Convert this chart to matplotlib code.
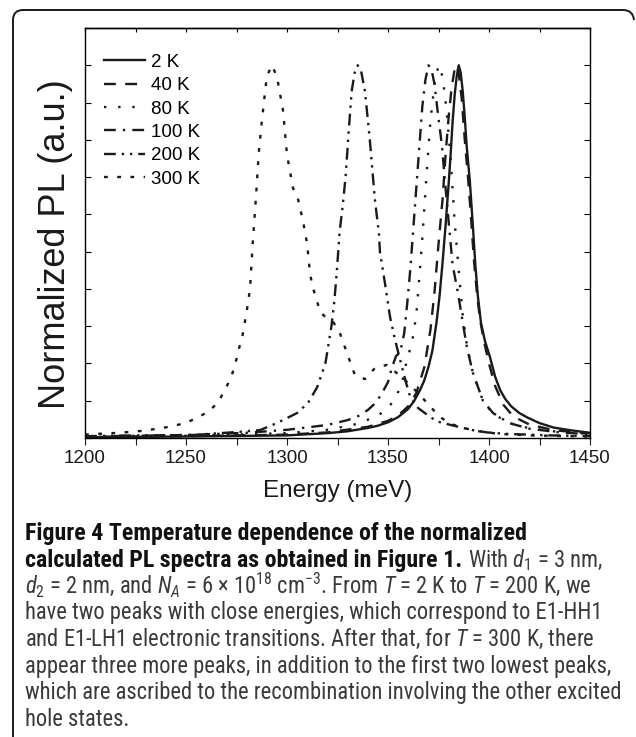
import matplotlib
matplotlib.use("Agg")
import matplotlib.pyplot as plt
from matplotlib.path import Path
from matplotlib.patches import PathPatch
from matplotlib import font_manager

available = {f.name for f in font_manager.fontManager.ttflist}
cap_font = next((f for f in ['Liberation Sans Narrow', 'DejaVu Sans Condensed', 'Roboto Condensed',
                             'Open Sans Condensed', 'Lato', 'Roboto', 'Liberation Sans']
                 if f in available), 'DejaVu Sans')

plt.rcParams['font.family'] = ['Liberation Sans', 'DejaVu Sans']
plt.rcParams['mathtext.fontset'] = 'custom'
plt.rcParams['mathtext.rm'] = cap_font
plt.rcParams['mathtext.it'] = cap_font + ':italic'
plt.rcParams['mathtext.bf'] = cap_font + ':bold'

# ---------------- data ----------------
labels = ["2 K", "40 K", "80 K", "100 K", "200 K", "300 K"]

e_2K = [1200, 1250, 1300, 1320, 1330, 1340, 1345, 1350, 1355, 1360, 1363, 1366, 1368, 1370, 1372, 1374,
        1375.5, 1377, 1378.5, 1380, 1381, 1382, 1383, 1384, 1385, 1386, 1387, 1388, 1389, 1390.5, 1392,
        1393.3, 1394.5, 1396, 1398, 1400.5, 1403, 1405.5, 1408, 1411, 1415, 1419, 1425, 1432, 1440, 1450]
y_2K = [0.002, 0.004, 0.007, 0.013, 0.018, 0.027, 0.033, 0.042, 0.056, 0.078, 0.10, 0.13, 0.155, 0.19, 0.235, 0.31,
        0.38, 0.47, 0.57, 0.68, 0.76, 0.85, 0.92, 0.97, 1.0, 0.98, 0.93, 0.86, 0.78, 0.69, 0.57,
        0.46, 0.38, 0.31, 0.26, 0.217, 0.165, 0.129, 0.105, 0.085, 0.067, 0.055, 0.04, 0.028, 0.021, 0.014]

e_40K = [1200, 1250, 1300, 1320, 1340, 1350, 1355, 1360, 1364, 1368, 1371, 1373, 1375, 1377, 1378.5, 1380,
         1381.5, 1383, 1384, 1385, 1386.5, 1388, 1389.6, 1391, 1392.5, 1394, 1395.5, 1397.5, 1400, 1403,
         1407, 1412, 1420, 1432, 1450]
y_40K = [0.003, 0.005, 0.009, 0.015, 0.03, 0.046, 0.06, 0.085, 0.12, 0.19, 0.29, 0.39, 0.52, 0.64, 0.76, 0.86,
         0.94, 0.99, 1.0, 0.98, 0.91, 0.80, 0.70, 0.60, 0.48, 0.39, 0.32, 0.26, 0.20, 0.14,
         0.09, 0.058, 0.036, 0.021, 0.012]

e_80K = [1200, 1250, 1300, 1320, 1335, 1345, 1350, 1354, 1357, 1359, 1362, 1364, 1365.5, 1367, 1369, 1371,
         1373, 1375, 1377, 1379, 1381, 1383, 1385, 1387, 1389, 1392, 1397, 1402, 1410, 1420, 1435, 1450]
y_80K = [0.003, 0.006, 0.013, 0.022, 0.038, 0.06, 0.08, 0.11, 0.15, 0.20, 0.26, 0.33, 0.43, 0.536, 0.70, 0.85,
         0.95, 1.0, 0.97, 0.88, 0.75, 0.58, 0.45, 0.33, 0.25, 0.175, 0.10, 0.065, 0.04, 0.026, 0.016, 0.011]

e_100K = [1200, 1250, 1280, 1300, 1320, 1330, 1335, 1340, 1344, 1347, 1350, 1352, 1354, 1356, 1358, 1359.5,
          1361, 1362.5, 1364, 1365.5, 1367, 1368.5, 1370, 1371.5, 1373, 1374.8, 1376.7, 1378, 1380.7, 1382,
          1384.6, 1387, 1389, 1392, 1397, 1402, 1410, 1420, 1435, 1450]
y_100K = [0.004, 0.008, 0.014, 0.022, 0.035, 0.048, 0.058, 0.075, 0.095, 0.12, 0.15, 0.19, 0.22, 0.23, 0.28, 0.36,
          0.45, 0.56, 0.67, 0.78, 0.89, 0.96, 1.0, 0.99, 0.95, 0.866, 0.785, 0.70, 0.54, 0.464,
          0.39, 0.31, 0.245, 0.175, 0.10, 0.067, 0.04, 0.025, 0.015, 0.010]

e_200K = [1200, 1225, 1253, 1275, 1286.6, 1295, 1305, 1310.4, 1315, 1319, 1322, 1323.5, 1324.7, 1326, 1327.5,
          1329, 1330.5, 1332, 1333.5, 1335, 1336.5, 1338.6, 1341, 1343.5, 1345.5, 1346, 1348.5, 1351, 1353.5,
          1356, 1359, 1361, 1365, 1369, 1374, 1381, 1392, 1399, 1409, 1430, 1450]
y_200K = [0.005, 0.007, 0.008, 0.016, 0.021, 0.04, 0.067, 0.094, 0.137, 0.20, 0.30, 0.37, 0.45, 0.55, 0.62,
          0.70, 0.82, 0.93, 0.98, 1.0, 0.99, 0.93, 0.80, 0.64, 0.55, 0.50, 0.415, 0.325, 0.263,
          0.21, 0.147, 0.11, 0.08, 0.064, 0.045, 0.035, 0.021, 0.015, 0.011, 0.007, 0.005]

e_300K = [1200, 1206, 1217, 1228, 1238.6, 1250, 1261, 1266, 1271.8, 1274, 1276.7, 1278, 1280, 1281.7, 1283,
          1284.6, 1286, 1287.6, 1290, 1292.5, 1295, 1298, 1300, 1303, 1305.5, 1308, 1310, 1311.4, 1313, 1315,
          1316.3, 1320, 1323, 1326, 1329.7, 1333.6, 1338.6, 1343.6, 1349.5, 1354.4, 1359.4, 1365, 1370,
          1375, 1380, 1387, 1395, 1405, 1420, 1450]
y_300K = [0.009, 0.011, 0.014, 0.019, 0.027, 0.04, 0.07, 0.096, 0.156, 0.19, 0.25, 0.276, 0.338, 0.40, 0.52,
          0.643, 0.764, 0.853, 0.97, 1.0, 0.97, 0.88, 0.76, 0.67, 0.64, 0.58, 0.52, 0.44, 0.40, 0.365,
          0.338, 0.32, 0.31, 0.284, 0.228, 0.169, 0.158, 0.188, 0.196, 0.174, 0.15, 0.12, 0.09,
          0.06, 0.04, 0.027, 0.018, 0.011, 0.007, 0.004]

x_ticks = [1200, 1250, 1300, 1350, 1400, 1450]
x_minor = [1225, 1275, 1325, 1375, 1425]

caption_lines = [
    [("Figure 4 Temperature dependence of the normalized", "bold")],
    [("calculated PL spectra as obtained in Figure 1.", "bold"), (" With $d_1$ = 3 nm,", "normal")],
    [("$d_2$ = 2 nm, and $N_A$ = 6 \u00d7 10$^{18}$ cm$^{-3}$. From $T$ = 2 K to $T$ = 200 K, we", "normal")],
    [("have two peaks with close energies, which correspond to E1-HH1", "normal")],
    [("and E1-LH1 electronic transitions. After that, for $T$ = 300 K, there", "normal")],
    [("appear three more peaks, in addition to the first two lowest peaks,", "normal")],
    [("which are ascribed to the recombination involving the other excited", "normal")],
    [("hole states.", "normal")],
]

# ---------------- figure ----------------
W, H = 636, 737
fig = plt.figure(figsize=(W / 100, H / 100), dpi=100)
ax = fig.add_axes([85 / W, 1 - 438 / H, 505 / W, 410 / H])

lw = 1.7
ink = '#1a1a1a'
series = [
    (e_2K, y_2K, dict(linestyle='-')),
    (e_40K, y_40K, dict(linestyle=(0, (5, 4)))),
    (e_80K, y_80K, dict(linestyle=(0, (1, 5)))),
    (e_100K, y_100K, dict(linestyle=(0, (5, 3, 1, 3)))),
    (e_200K, y_200K, dict(linestyle=(0, (5, 2.5, 1, 2.5, 1, 2.5)))),
    (e_300K, y_300K, dict(linestyle=(0, (1.6, 4.0)))),
]
for (e, y, st), lab in zip(series, labels):
    ax.plot(e, y, color=ink, lw=lw, label=lab, **st)

ax.set_xlim(1200, 1450)
ax.set_ylim(0, 1.1)
ax.set_xticks(x_ticks)
ax.set_xticks(x_minor, minor=True)
ax.set_yticks([i / 10 for i in range(12)])
ax.tick_params(axis='y', which='both', direction='in', left=True, right=True, labelleft=False, length=4, width=0.8)
ax.tick_params(axis='x', which='both', direction='out', length=5, width=0.8, labelsize=13.5, pad=4, colors=ink)
sec = ax.secondary_xaxis('top')
sec.set_xticks(x_ticks + x_minor)
sec.tick_params(direction='in', length=3, width=0.8, labeltop=False)
for s in ax.spines.values():
    s.set_linewidth(1.0)
sec.spines['top'].set_linewidth(1.0)

ax.set_xlabel("Energy (meV)", fontsize=17.5, labelpad=9, color=ink)
ax.set_ylabel("Normalized PL (a.u.)", fontsize=26, color=ink)
ax.yaxis.set_label_coords(-0.024, 0.473)

leg = ax.legend(loc='upper left', bbox_to_anchor=(0.038, 0.937), frameon=False, fontsize=13.5,
                handlelength=2.2, handletextpad=0.3, labelspacing=0.33, borderpad=0, borderaxespad=0)
for h in leg.get_lines():
    h.set_linewidth(lw)

# ---------------- frame ----------------
def fx(px):
    return px / W

def fy(py):
    return 1 - py / H

r = 10
verts = [(fx(13), fy(737)), (fx(13), fy(10 + r)),
         (fx(13), fy(10)), (fx(13 + r), fy(10)),
         (fx(623), fy(10)),
         (fx(633), fy(10)), (fx(634), fy(10 + r))]
codes = [Path.MOVETO, Path.LINETO, Path.CURVE3, Path.CURVE3, Path.LINETO, Path.CURVE3, Path.CURVE3]
fig.add_artist(PathPatch(Path(verts, codes), transform=fig.transFigure, fill=False,
                         lw=1.4, edgecolor=ink))

# ---------------- caption ----------------
fig.canvas.draw()
rend = fig.canvas.get_renderer()

def width_of(txt, size, weight='normal'):
    t = fig.text(0, 0, txt, fontsize=size, fontweight=weight, family=cap_font)
    w = t.get_window_extent(rend).width
    t.remove()
    return w

# fit caption lines to the widths they have in the reference
probe = 13.0
cap_size = probe * 593.0 / width_of(caption_lines[6][0][0], probe)
bold_size = probe * 500.0 / width_of(caption_lines[0][0][0], probe, 'bold')
space_w = width_of("a a", cap_size) - width_of("aa", cap_size)

baselines = [540, 567, 593, 619.5, 646, 672.5, 699, 725.5]
for line, yb in zip(caption_lines, baselines):
    x = 25.0
    for txt, wt in line:
        if txt.startswith(' '):
            x += space_w + 1
        col = '#111111' if wt == 'bold' else '#3a3a3a'
        size = bold_size if wt == 'bold' else cap_size
        t = fig.text(fx(x), fy(yb), txt.lstrip(' '), fontsize=size, fontweight=wt,
                     family=cap_font, color=col, ha='left', va='baseline')
        x += t.get_window_extent(rend).width

fig.savefig("out.png", dpi=100)
